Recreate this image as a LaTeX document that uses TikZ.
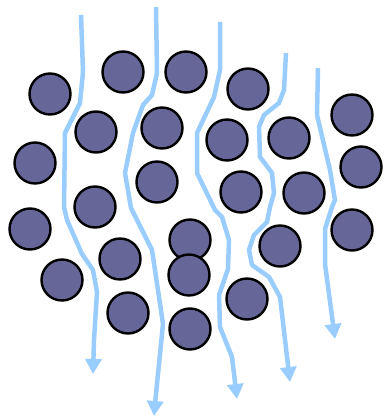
\documentclass[tikz,border=0pt]{standalone}
\usetikzlibrary{arrows.meta}
\definecolor{ball}{HTML}{666699}
\definecolor{flow}{HTML}{99CCFF}
\begin{document}
\begin{tikzpicture}[x=1pt,y=-1pt,
  particle/.style={circle,draw=black,fill=ball,line width=2.4pt,minimum size=41pt,inner sep=0pt},
  flowline/.style={draw=flow,line width=4.5pt,line join=round,-{Triangle[width=16pt,length=15pt]}}]
\useasboundingbox (0,0) rectangle (384,417);
\foreach \n/\x/\y in {1/50/94,2/123/72,3/186/72,4/248/89,5/352/115,
  6/96/132,7/162/128,8/227/140,9/289/138,10/35/163,11/361/167,
  12/157/182,13/241/192,14/304/193,15/95/207,
  16/30/229,17/352/230,18/190/240,19/280/246,20/120/259,
  21/189/275,22/62/280,23/247/299,24/128/313,25/190/329}
  \node[particle] (p\n) at (\x,\y) {};
\draw[flowline] (81,15) -- (83,72) -- (80,103) -- (65,133) -- (64,207) -- (67,220) -- (82,254) -- (93,270) -- (97,292) -- (94,340) -- (93,374);
\draw[flowline] (156,7) -- (157,73) -- (152,95) -- (143,105) -- (133,133) -- (125,173) -- (131,208) -- (152,250) -- (163,324) -- (155,404) -- (154,416);
\draw[flowline] (220,22) -- (220,70) -- (214,97) -- (197,133) -- (197,173) -- (215,210) -- (222,217) -- (229,240) -- (228,269) -- (219,295) -- (220,327) -- (232,357) -- (237,399);
\draw[flowline] (286,53) -- (284,90) -- (279,103) -- (264,115) -- (259,127) -- (260,157) -- (272,173) -- (274,193) -- (270,207) -- (267,222) -- (254,235) -- (249,250) -- (252,265) -- (269,277) -- (280,297) -- (290,382);
\draw[flowline] (318,68) -- (317,115) -- (330,170) -- (335,200) -- (332,207) -- (325,229) -- (325,264) -- (335,339);
\end{tikzpicture}
\end{document}
